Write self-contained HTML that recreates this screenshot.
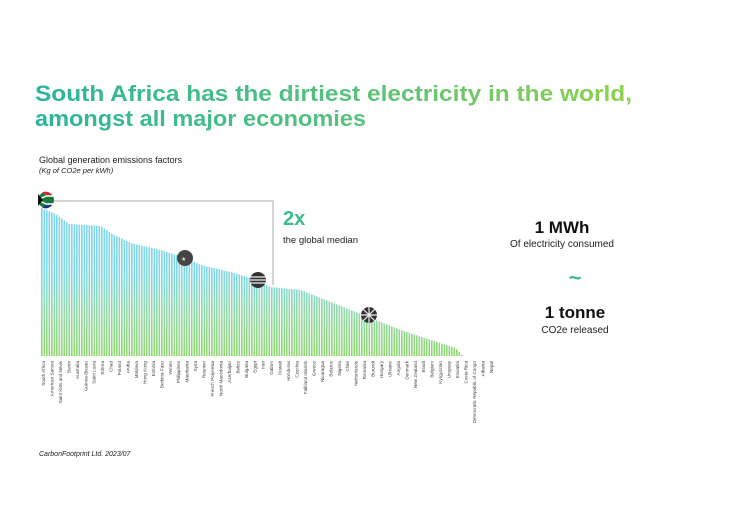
<!DOCTYPE html>
<html><head><meta charset="utf-8"><style>
html,body{margin:0;padding:0;background:#fff;width:746px;height:527px;overflow:hidden}
svg{display:block;font-family:"Liberation Sans",sans-serif}
</style></head><body>
<svg id="s" width="746" height="527" viewBox="0 0 746 527" xmlns="http://www.w3.org/2000/svg">
<defs>
<linearGradient id="tg" x1="35" y1="0" x2="640" y2="0" gradientUnits="userSpaceOnUse">
<stop offset="0" stop-color="#2bb59c"/><stop offset="0.55" stop-color="#5cc27a"/><stop offset="1" stop-color="#8fd24a"/></linearGradient>
<linearGradient id="bg" x1="0" y1="205" x2="0" y2="356" gradientUnits="userSpaceOnUse">
<stop offset="0" stop-color="#7dd6ee"/><stop offset="0.45" stop-color="#80d8e4"/><stop offset="0.75" stop-color="#92dba0"/><stop offset="1" stop-color="#8fd870"/></linearGradient>
</defs>
<text x="35" y="101" font-size="22" font-weight="bold" fill="url(#tg)" textLength="597" lengthAdjust="spacingAndGlyphs">South Africa has the dirtiest electricity in the world,</text>
<text x="35" y="126" font-size="22" font-weight="bold" fill="url(#tg)" textLength="331" lengthAdjust="spacingAndGlyphs">amongst all major economies</text>
<text x="39" y="163" font-size="9" fill="#222">Global generation emissions factors</text>
<text x="39" y="173" font-size="7.5" font-style="italic" fill="#222">(Kg of CO2e per kWh)</text>
<g id="bars"></g>
<polyline points="47,201 273,201 273,285" fill="none" stroke="#aaa" stroke-width="1"/>
<text x="283" y="225" font-size="20" font-weight="bold" fill="#3dba8c">2x</text>
<text x="283" y="243" font-size="9.5" fill="#222">the global median</text>
<text x="562" y="233" font-size="17" font-weight="bold" fill="#111" text-anchor="middle">1 MWh</text>
<text x="562" y="247" font-size="10" fill="#222" text-anchor="middle">Of electricity consumed</text>
<text x="575" y="285" font-size="22" font-weight="bold" fill="#3dba8c" text-anchor="middle">~</text>
<text x="575" y="318" font-size="17" font-weight="bold" fill="#111" text-anchor="middle">1 tonne</text>
<text x="575" y="333" font-size="10" fill="#222" text-anchor="middle">CO2e released</text>
<circle cx="46" cy="200" r="8" fill="#1a7a3a"/><path d="M38,200 L46,196 L54,196 M38,200 L46,204 L54,204" stroke="#fff" stroke-width="1.5" fill="none"/><path d="M38,194 L43,200 L38,206Z" fill="#111"/><path d="M42,192.5 A8,8 0 0 1 52,195 L46,195Z" fill="#d23"/><path d="M42,207.5 A8,8 0 0 0 52,205 L46,205Z" fill="#238"/>
<circle cx="185" cy="258" r="8" fill="#444"/><text x="181" y="261" font-size="6" fill="#ddd">★</text>
<circle cx="258" cy="280" r="8" fill="#333"/><path d="M250,277h16M250,280h16M250,283h16" stroke="#eee" stroke-width="1.2"/>
<circle cx="369" cy="315" r="8" fill="#333"/><path d="M369,307v16M361,315h16M363,309l12,12M375,309l-12,12" stroke="#eee" stroke-width="1.2"/>
<g id="labels" font-size="4.6" fill="#444"></g>
<text x="39" y="456" font-size="7" font-style="italic" fill="#222">CarbonFootprint Ltd. 2023/07</text>
</svg>
<script>
var env=[[41,208],[50,212],[55,214],[68,224],[100,226],[110,233],[130,243],[160,250],[185,258],[200,265],[230,272],[250,278],[270,287],[300,290],[320,298],[350,310],[380,322],[400,330],[430,340],[455,348],[462,356]];
function f(x){for(var i=1;i<env.length;i++){if(x<=env[i][0]){var a=env[i-1],b=env[i];return a[1]+(b[1]-a[1])*(x-a[0])/(b[0]-a[0]);}}return 356;}
var g=document.getElementById('bars'),h='';
for(var x=41;x<463;x+=2.5){var y=f(x);h+='<rect x="'+x.toFixed(1)+'" y="'+y.toFixed(1)+'" width="1.6" height="'+(356-y).toFixed(1)+'" fill="url(#bg)"/>';}
g.innerHTML=h;
var L=["South Africa","American Samoa","Saint Kitts and Nevis","Benin","Australia","Guinea-Bissau","Saint Lucia","Eritrea","Chad","Poland","Aruba","Moldova","Hong Kong","Estonia","Burkina Faso","Yemen","Philippines","Mauritania","Syria","Reunion","French Polynesia","North Macedonia","Azerbaijan","Belize","Bulgaria","Egypt","Iran","Gabon","Kuwait","Honduras","Czechia","Falkland Islands","Greece","Nicaragua","Belarus","Nigeria","Chile","Netherlands","Romania","Burundi","Hungary","Ukraine","Angola","Denmark","New Zealand","Brazil","Belgium","Kyrgyzstan","Uruguay","Eswatini","Costa Rica","Democratic Republic of Congo","Albania","Nepal"];
var s='';for(var i=0;i<L.length;i++){var lx=45+i*8.45;s+='<text transform="translate('+lx.toFixed(1)+',361) rotate(-90)" text-anchor="end">'+L[i]+'</text>';}
document.getElementById('labels').innerHTML=s;
</script>
</body></html>
